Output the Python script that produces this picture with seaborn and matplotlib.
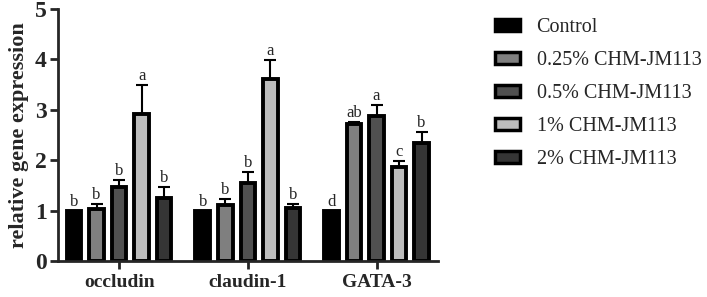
import pandas as pd
import matplotlib.pyplot as plt
from matplotlib.patches import Patch
import seaborn as sns

genes = ['occludin', 'claudin-1', 'GATA-3']
groups = ['Control', '0.25% CHM-JM113', '0.5% CHM-JM113', '1% CHM-JM113', '2% CHM-JM113']
colors = ['#000000', '#7f7f7f', '#505050', '#bdbdbd', '#353535']

# mean values per group, order follows genes
control = [1.00, 1.00, 1.00]
dose_025 = [1.03, 1.11, 2.72]
dose_05 = [1.46, 1.54, 2.87]
dose_1 = [2.91, 3.62, 1.86]
dose_2 = [1.26, 1.05, 2.34]

# standard deviations (upper error bars)
sd_control = [0.0, 0.0, 0.0]
sd_025 = [0.10, 0.12, 0.03]
sd_05 = [0.14, 0.23, 0.22]
sd_1 = [0.59, 0.36, 0.13]
sd_2 = [0.21, 0.08, 0.22]

# significance letters
let_control = ['b', 'b', 'd']
let_025 = ['b', 'b', 'ab']
let_05 = ['b', 'b', 'a']
let_1 = ['a', 'a', 'c']
let_2 = ['b', 'b', 'b']

means = [control, dose_025, dose_05, dose_1, dose_2]
sds = [sd_control, sd_025, sd_05, sd_1, sd_2]
letters = [let_control, let_025, let_05, let_1, let_2]

rows = []
for g, vals in zip(groups, means):
    for gene, v in zip(genes, vals):
        rows.append({'gene': gene, 'group': g, 'value': v})
df = pd.DataFrame(rows)

sns.set_style('ticks')
plt.rcParams['font.family'] = ['Liberation Serif', 'DejaVu Serif']

fig = plt.figure(figsize=(7.07, 2.97), dpi=100)
ax = fig.add_axes([0.082, 0.121, 0.538, 0.849])

sns.barplot(data=df, x='gene', y='value', hue='group', hue_order=groups,
            palette=colors, errorbar=None, width=0.875, gap=0.35,
            edgecolor='black', linewidth=2.8, ax=ax, legend=False)

for cont, sd, lets in zip(ax.containers, sds, letters):
    for bar, s, lt in zip(cont, sd, lets):
        x = bar.get_x() + bar.get_width() / 2
        h = bar.get_height()
        if s > 0:
            ax.errorbar(x, h, yerr=[[0], [s]], fmt='none', ecolor='black',
                        elinewidth=1.5, capsize=4, capthick=1.5)
        ax.text(x, h + s + 0.02, lt, ha='center', va='bottom', fontsize=12)

ax.set_ylim(0, 5)
ax.set_xlim(-0.475, 2.48)
ax.set_yticks(range(6))
ax.set_xlabel('')
ax.set_ylabel('relative gene expression', fontsize=16, fontweight='bold', labelpad=4)
sns.despine(ax=ax)
for sp in ['left', 'bottom']:
    ax.spines[sp].set_linewidth(2)
ax.tick_params(axis='both', width=2, length=6)
ax.tick_params(axis='x', labelsize=14)
ax.tick_params(axis='y', labelsize=17, pad=2)
for lab in ax.get_xticklabels() + ax.get_yticklabels():
    lab.set_fontweight('bold')

handles = [Patch(facecolor=c, edgecolor='black', linewidth=2.5, label=g)
           for c, g in zip(colors, groups)]
fig.legend(handles=handles, loc='upper left', bbox_to_anchor=(0.692, 0.96),
           frameon=False, fontsize=14.5, handlelength=1.25, handleheight=0.55,
           labelspacing=0.7, handletextpad=0.8, borderaxespad=0, borderpad=0.3)

fig.savefig('out.png', dpi=100)
